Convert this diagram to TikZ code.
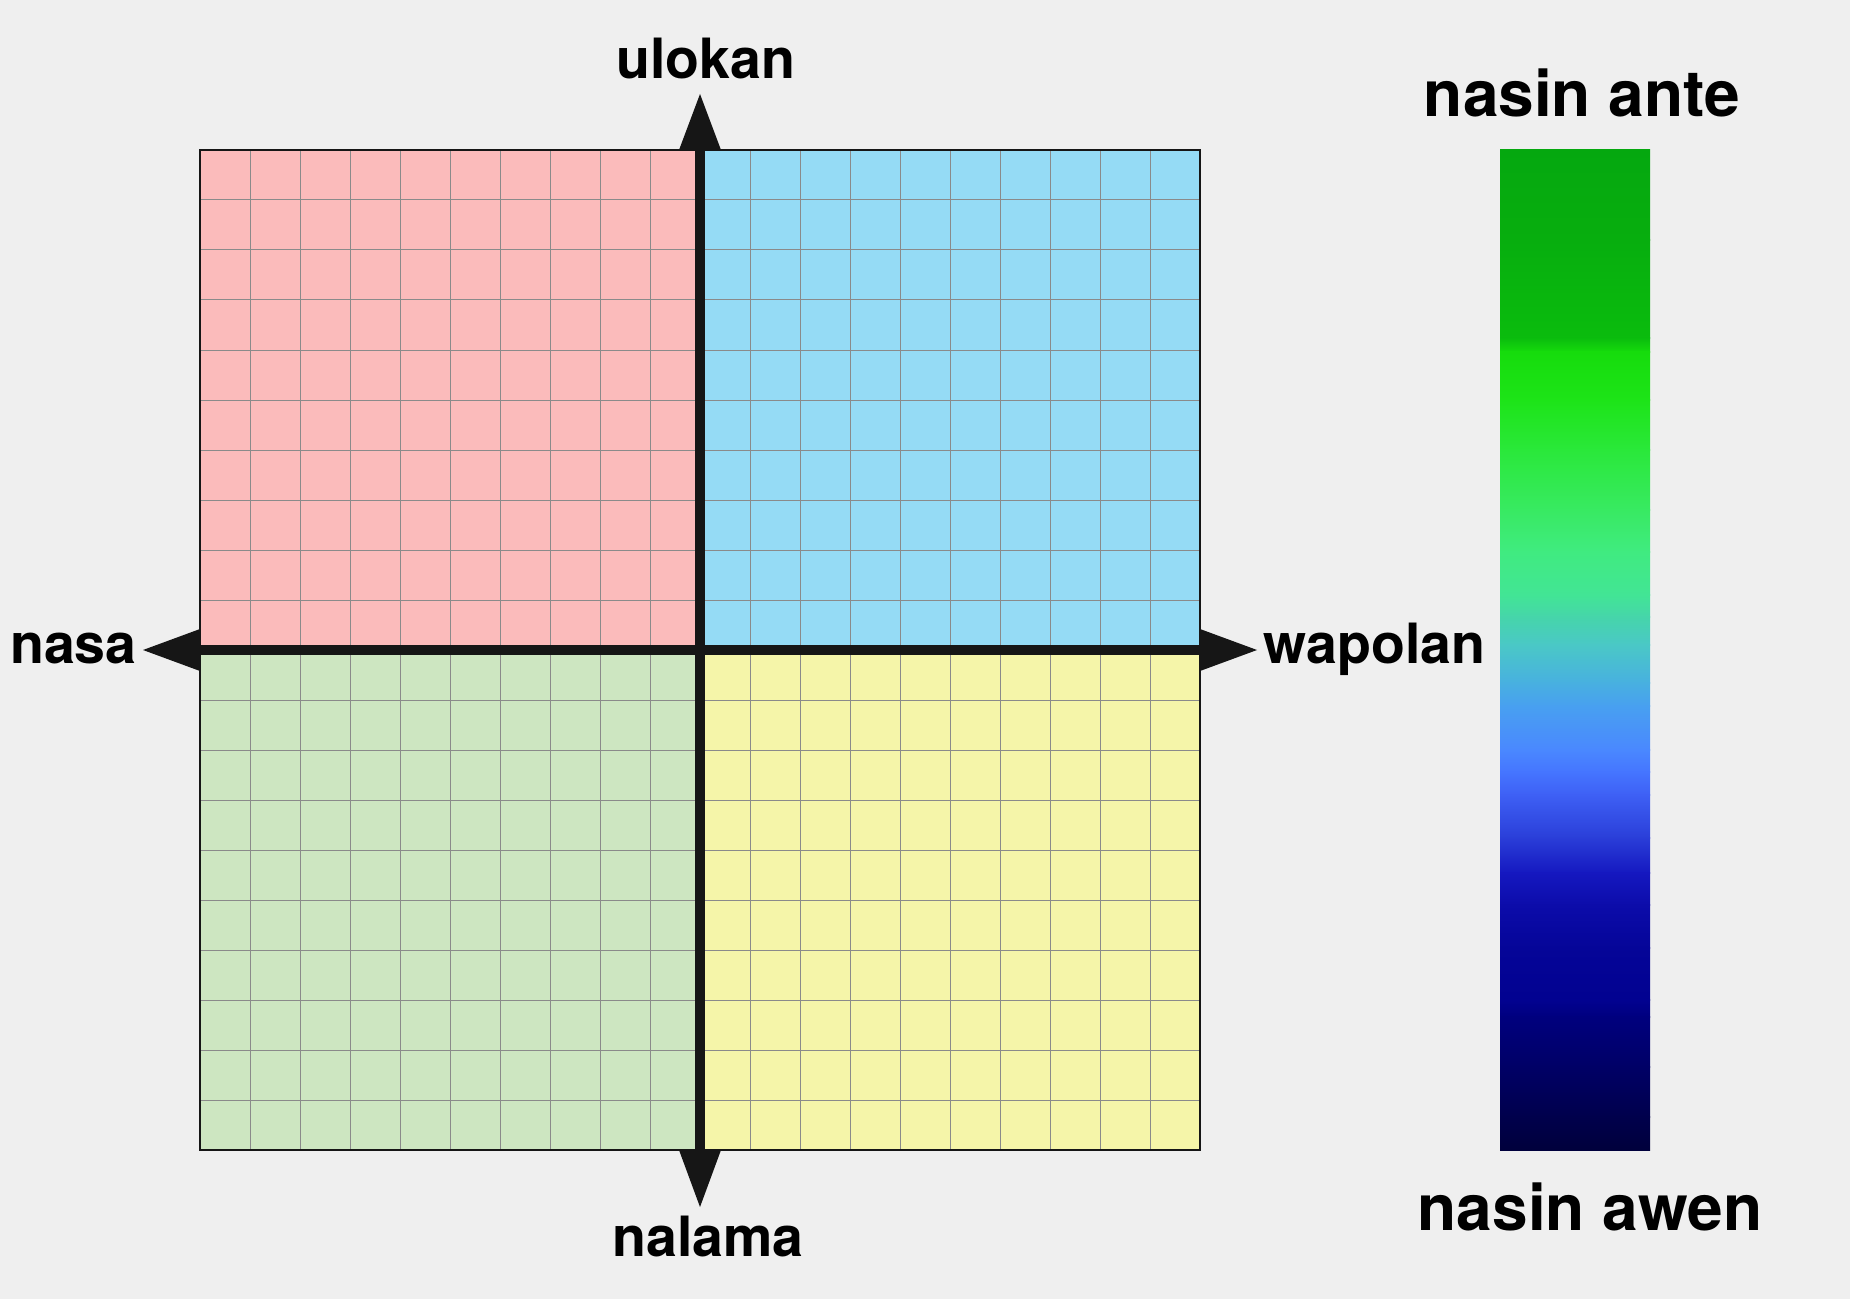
\documentclass[tikz,border=0pt]{standalone}
\usepackage{fontspec}
\setmainfont{TeX Gyre Heros}
\definecolor{bg}{HTML}{EFEFEF}
\definecolor{qpink}{HTML}{FBBBBB}
\definecolor{qblue}{HTML}{95DBF5}
\definecolor{qgreen}{HTML}{CDE6C1}
\definecolor{qyellow}{HTML}{F5F5A9}
\definecolor{axiscol}{HTML}{161616}
\definecolor{gridcol}{HTML}{8A8A8A}
\begin{document}
\begin{tikzpicture}[x=0.5pt,y=-0.5pt,
  axislabel/.style={font=\bfseries\fontsize{27.75}{30}\selectfont, inner sep=0pt},
  barlabel/.style={font=\bfseries\fontsize{32}{36}\selectfont, inner sep=0pt},
  axisline/.style={draw=axiscol, line width=5pt},
  arrowhead/.style={fill=axiscol},
  gridline/.style={draw=gridcol, line width=0.5pt}]
\fill[bg] (0,0) rectangle (1850,1299);
\useasboundingbox (0,0) rectangle (1850,1299);
% quadrants
\fill[qpink] (200,150) rectangle (700,650);
\fill[qblue] (700,150) rectangle (1200,650);
\fill[qgreen] (200,650) rectangle (700,1150);
\fill[qyellow] (700,650) rectangle (1200,1150);
% grid
\foreach \i in {1,...,19} {
  \draw[gridline] ({200+50*\i},150) -- ({200+50*\i},1150);
  \draw[gridline] (200,{150+50*\i}) -- (1200,{150+50*\i});
}
\draw[line width=0.6pt, axiscol] (200,150) rectangle (1200,1150);
% axes
\coordinate (top) at (700,150);
\coordinate (bot) at (700,1150);
\coordinate (lft) at (200,650);
\coordinate (rgt) at (1200,650);
\draw[axisline] (top) -- (bot);
\draw[axisline] (lft) -- (rgt);
\fill[arrowhead] (top) ++(-21,0) -- ++(21,-56) -- ++(21,56) -- cycle;
\fill[arrowhead] (bot) ++(-21,0) -- ++(21,57) -- ++(21,-57) -- cycle;
\fill[arrowhead] (lft) ++(0,-21) -- ++(-57,21) -- ++(57,21) -- cycle;
\fill[arrowhead] (rgt) ++(0,-21) -- ++(57,21) -- ++(-57,21) -- cycle;
% axis labels
\node[axislabel, anchor=base] (up) at (706,79) {ulokan};
\node[axislabel, anchor=base] (down) at (708,1256) {nalama};
\node[axislabel, anchor=base east] (left) at (137,663) {nasa};
\node[axislabel, anchor=base west] (right) at (1263,663) {wapolan};
% colour bar
\foreach \ya/\ca/\yb/\cb in {
  150/05A80F/240/07AE0E, 240/07AE0E/338/0ABC0D, 338/0ABC0D/352/16DC0C,
  352/16DC0C/400/1DE418, 400/1DE418/450/2AE83A, 450/2AE83A/510/38EA62, 510/38EA62/552/40EB80,
  552/40EB80/595/42E595, 595/42E595/617/46D5AA, 617/46D5AA/645/4AC8C6,
  645/4AC8C6/683/48B0E0, 683/48B0E0/706/48A0F0, 706/48A0F0/750/4A88FF,
  750/4A88FF/772/4575FF, 772/4575FF/795/3E60F5, 795/3E60F5/838/2A3ED8,
  838/2A3ED8/873/1518C0, 873/1518C0/905/0C0CAA, 905/0C0CAA/948/050598,
  948/050598/1000/020290, 1000/020290/1017/00007E, 1017/00007E/1067/000066,
  1067/000066/1117/00004C, 1117/00004C/1150/00003C} {
  \definecolor{ta}{HTML}{\ca}\definecolor{tb}{HTML}{\cb}
  \shade[top color=ta, bottom color=tb] (1500,{max(150,\ya-0.5)}) rectangle (1650,{min(1150,\yb+0.5)});
}
\node[barlabel, anchor=base] (hi) at (1582,117) {nasin ante};
\node[barlabel, anchor=base] (lo) at (1590,1230) {nasin awen};
\end{tikzpicture}
\end{document}
